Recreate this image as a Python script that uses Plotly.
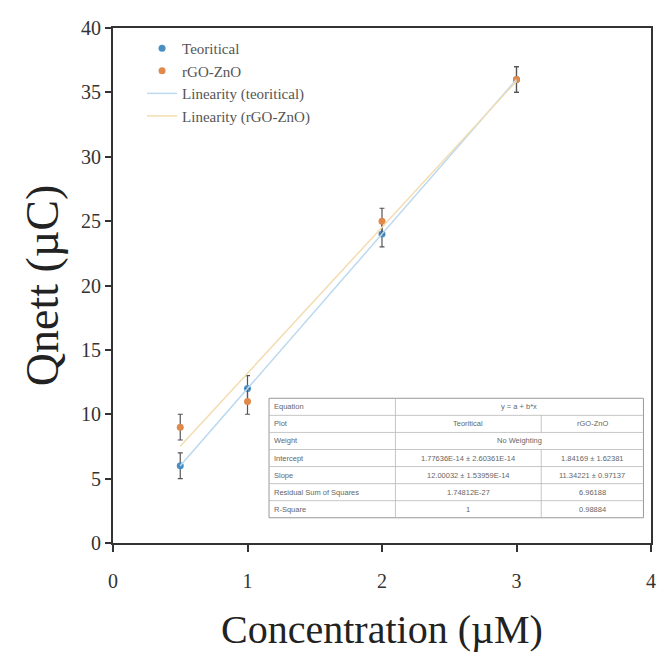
import plotly.graph_objects as go

# ---- data ----
conc = [0.5, 1, 2, 3]
teoritical = [6, 12, 24, 36]
teoritical_err = [1, 1, 1, 1]
rgo_zno = [9, 11, 25, 36]
rgo_zno_err = [1, 1, 1, 1]

fit_x = [0.5, 3]
teo_intercept, teo_slope = 1.77636e-14, 12.0
rgo_intercept, rgo_slope = 1.84169, 11.34221

table_rows = [
    ["Equation", "y = a + b*x", None],
    ["Plot", "Teoritical", "rGO-ZnO"],
    ["Weight", "No Weighting", None],
    ["Intercept", "1.77636E-14 \u00b1 2.60361E-14", "1.84169 \u00b1 1.62381"],
    ["Slope", "12.00032 \u00b1 1.53959E-14", "11.34221 \u00b1 0.97137"],
    ["Residual Sum of Squares", "1.74812E-27", "6.96188"],
    ["R-Square", "1", "0.98884"],
]

serif = "Liberation Serif"
blue = "#4a8fc4"
orange = "#e0894a"

fig = go.Figure()
fig.add_trace(go.Scatter(
    x=conc, y=teoritical, mode="markers", name="Teoritical",
    marker=dict(color=blue, size=7),
    error_y=dict(type="data", array=teoritical_err, color="#555555", thickness=1.2, width=2.5),
))
fig.add_trace(go.Scatter(
    x=conc, y=rgo_zno, mode="markers", name="rGO-ZnO",
    marker=dict(color=orange, size=7),
    error_y=dict(type="data", array=rgo_zno_err, color="#555555", thickness=1.2, width=2.5),
))
fig.add_trace(go.Scatter(
    x=fit_x, y=[teo_intercept + teo_slope * v for v in fit_x], mode="lines",
    name="Linearity (teoritical)", line=dict(color="#bcd9ef", width=1.5),
))
fig.add_trace(go.Scatter(
    x=fit_x, y=[rgo_intercept + rgo_slope * v for v in fit_x], mode="lines",
    name="Linearity (rGO-ZnO)", line=dict(color="#f3dcb0", width=1.5),
))

# ---- inset table (paper coords) ----
x0, x1, x2, x3 = 0.290, 0.525, 0.796, 0.986
ytop, ybot = 0.281, 0.049
n = len(table_rows)
rh = (ytop - ybot) / n
line_c = "#b8b8b8"
tfont = dict(family="Arial", size=7.5, color="#666666")
shapes = [dict(type="rect", xref="paper", yref="paper", x0=x0, x1=x3, y0=ybot, y1=ytop,
               line=dict(color="#999999", width=1), fillcolor="white", layer="above")]
for i in range(1, n):
    yy = ytop - i * rh
    shapes.append(dict(type="line", xref="paper", yref="paper", x0=x0, x1=x3, y0=yy, y1=yy,
                       line=dict(color=line_c, width=0.8), layer="above"))
annotations = []
for i, (lab, c1, c2) in enumerate(table_rows):
    ya, yb = ytop - i * rh, ytop - (i + 1) * rh
    yc = (ya + yb) / 2
    shapes.append(dict(type="line", xref="paper", yref="paper", x0=x1, x1=x1, y0=yb, y1=ya,
                       line=dict(color=line_c, width=0.8), layer="above"))
    annotations.append(dict(xref="paper", yref="paper", x=x0 + 0.005, y=yc, text=lab,
                            showarrow=False, xanchor="left", yanchor="middle", font=tfont))
    if c2 is None:
        annotations.append(dict(xref="paper", yref="paper", x=(x1 + x3) / 2, y=yc, text=c1,
                                showarrow=False, xanchor="center", yanchor="middle", font=tfont))
    else:
        shapes.append(dict(type="line", xref="paper", yref="paper", x0=x2, x1=x2, y0=yb, y1=ya,
                           line=dict(color=line_c, width=0.8), layer="above"))
        annotations.append(dict(xref="paper", yref="paper", x=(x1 + x2) / 2, y=yc, text=c1,
                                showarrow=False, xanchor="center", yanchor="middle", font=tfont))
        annotations.append(dict(xref="paper", yref="paper", x=(x2 + x3) / 2, y=yc, text=c2,
                                showarrow=False, xanchor="center", yanchor="middle", font=tfont))

fig.update_layout(
    width=662, height=666,
    margin=dict(l=113, r=6, t=28, b=123),
    paper_bgcolor="white", plot_bgcolor="white",
    shapes=shapes, annotations=annotations,
    showlegend=True,
    legend=dict(x=0.054, y=0.992, xanchor="left", yanchor="top",
                font=dict(family=serif, size=15, color="#555555"),
                bgcolor="rgba(0,0,0,0)", tracegroupgap=0, itemwidth=30),
    xaxis=dict(range=[0, 4], tickvals=[0, 1, 2, 3, 4], showgrid=False, zeroline=False,
               showline=True, linecolor="#333333", linewidth=2, mirror=True,
               ticks="outside", ticklen=7, tickwidth=2, tickcolor="#333333",
               ticklabelstandoff=12,
               tickfont=dict(family=serif, size=20, color="#333333"),
               title=dict(text="Concentration (\u00b5M)", standoff=24,
                          font=dict(family=serif, size=40, color="#222222"))),
    yaxis=dict(range=[0, 40], tickvals=list(range(0, 41, 5)), showgrid=False, zeroline=False,
               showline=True, linecolor="#333333", linewidth=2, mirror=True,
               ticks="outside", ticklen=6, tickwidth=2, tickcolor="#333333",
               tickfont=dict(family=serif, size=20, color="#333333"),
               title=dict(text="Qnett (\u00b5C)", standoff=8,
                          font=dict(family=serif, size=46, color="#222222"))),
)

fig.write_html("out.html")
